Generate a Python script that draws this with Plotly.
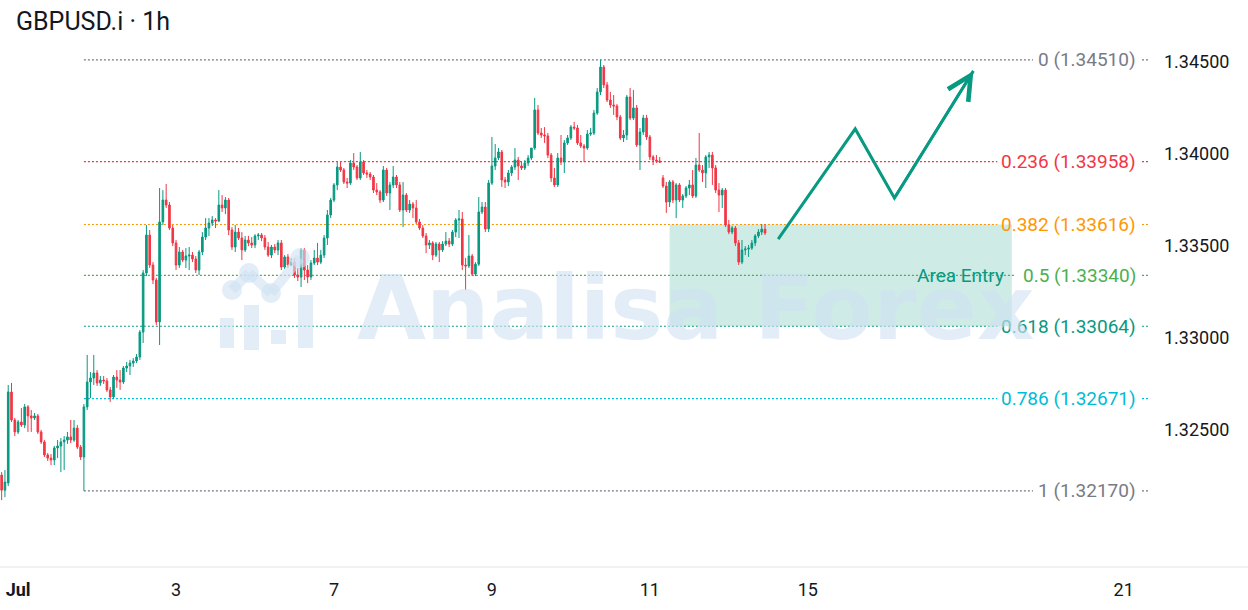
import pandas as pd
import plotly.graph_objects as go

# hourly bars, Jun 30 19:00 -> Jul 14 11:00 (weekends skipped)
hours = pd.date_range("2025-06-30 19:00", "2025-07-14 11:00", freq="h")
bar_time = hours[hours.dayofweek < 5]

open_ = [
    1.32256, 1.32174, 1.32213, 1.32707, 1.32555, 1.32490, 1.32544, 1.32528, 1.32626, 1.32577,
    1.32566, 1.32577, 1.32490, 1.32436, 1.32365, 1.32348, 1.32338, 1.32403, 1.32414, 1.32436,
    1.32446, 1.32463, 1.32446, 1.32511, 1.32408, 1.32354, 1.32626, 1.32761, 1.32783, 1.32810,
    1.32756, 1.32772, 1.32767, 1.32718, 1.32680, 1.32788, 1.32772, 1.32761, 1.32837, 1.32848,
    1.32864, 1.32875, 1.32897, 1.33032, 1.33353, 1.33559, 1.33396, 1.33315, 1.33087, 1.33630,
    1.33749, 1.33722, 1.33597, 1.33516, 1.33396, 1.33467, 1.33423, 1.33445, 1.33450, 1.33429,
    1.33369, 1.33467, 1.33548, 1.33597, 1.33624, 1.33641, 1.33635, 1.33722, 1.33706, 1.33749,
    1.33586, 1.33494, 1.33575, 1.33543, 1.33478, 1.33532, 1.33516, 1.33505, 1.33554, 1.33559,
    1.33543, 1.33494, 1.33450, 1.33494, 1.33478, 1.33516, 1.33385, 1.33440, 1.33396, 1.33412,
    1.33342, 1.33331, 1.33478, 1.33369, 1.33331, 1.33407, 1.33434, 1.33412, 1.33450, 1.33543,
    1.33668, 1.33749, 1.33831, 1.33928, 1.33912, 1.33847, 1.33841, 1.33950, 1.33928, 1.33869,
    1.33955, 1.33896, 1.33890, 1.33874, 1.33803, 1.33793, 1.33749, 1.33912, 1.33787, 1.33831,
    1.33874, 1.33831, 1.33695, 1.33776, 1.33695, 1.33727, 1.33706, 1.33630, 1.33597, 1.33554,
    1.33505, 1.33516, 1.33450, 1.33510, 1.33478, 1.33510, 1.33526, 1.33510, 1.33575, 1.33641,
    1.33646, 1.33396, 1.33391, 1.33445, 1.33347, 1.33401, 1.33684, 1.33711, 1.33592, 1.33841,
    1.33934, 1.33977, 1.34010, 1.33858, 1.33847, 1.33896, 1.33928, 1.33966, 1.33934, 1.33923,
    1.33950, 1.33977, 1.34031, 1.34238, 1.34113, 1.34102, 1.34097, 1.33993, 1.33869, 1.33831,
    1.33977, 1.33955, 1.34059, 1.34086, 1.34145, 1.34140, 1.34059, 1.34042, 1.34031, 1.34107,
    1.34113, 1.34221, 1.34336, 1.34471, 1.34374, 1.34292, 1.34265, 1.34259, 1.34200, 1.34086,
    1.34102, 1.34308, 1.34194, 1.34249, 1.34048, 1.34118, 1.34194, 1.34091, 1.33983, 1.33966,
    1.33961, 1.33869, 1.33825, 1.33738, 1.33847, 1.33749, 1.33831, 1.33749, 1.33771, 1.33814,
    1.33831, 1.33771, 1.33939, 1.33912, 1.33896, 1.33983, 1.33993, 1.33923, 1.33803, 1.33776,
    1.33803, 1.33613, 1.33575, 1.33597, 1.33516, 1.33412, 1.33478, 1.33483, 1.33488, 1.33516,
    1.33554, 1.33575, 1.33591,
]
high = [
    1.32272, 1.32283, 1.32745, 1.32756, 1.32566, 1.32555, 1.32620, 1.32642, 1.32636, 1.32609,
    1.32593, 1.32588, 1.32501, 1.32446, 1.32376, 1.32370, 1.32414, 1.32446, 1.32457, 1.32468,
    1.32490, 1.32555, 1.32555, 1.32528, 1.32419, 1.32642, 1.32908, 1.32815, 1.32908, 1.32826,
    1.32794, 1.32794, 1.32783, 1.32734, 1.32799, 1.32826, 1.32826, 1.32848, 1.32870, 1.32881,
    1.32891, 1.32913, 1.33043, 1.33369, 1.33613, 1.33586, 1.33412, 1.33326, 1.33814, 1.33803,
    1.33836, 1.33738, 1.33613, 1.33532, 1.33494, 1.33478, 1.33488, 1.33494, 1.33467, 1.33445,
    1.33478, 1.33575, 1.33651, 1.33651, 1.33662, 1.33651, 1.33803, 1.33776, 1.33765, 1.33760,
    1.33602, 1.33613, 1.33597, 1.33575, 1.33554, 1.33554, 1.33548, 1.33564, 1.33570, 1.33570,
    1.33559, 1.33521, 1.33505, 1.33510, 1.33532, 1.33532, 1.33450, 1.33456, 1.33434, 1.33434,
    1.33380, 1.33488, 1.33488, 1.33396, 1.33423, 1.33478, 1.33516, 1.33478, 1.33559, 1.33695,
    1.33760, 1.33841, 1.33955, 1.33955, 1.33923, 1.33869, 1.33966, 1.34004, 1.33939, 1.34010,
    1.33966, 1.33912, 1.33901, 1.33885, 1.33841, 1.33803, 1.33934, 1.33923, 1.33847, 1.33934,
    1.33885, 1.33847, 1.33847, 1.33787, 1.33749, 1.33738, 1.33749, 1.33646, 1.33613, 1.33570,
    1.33532, 1.33526, 1.33521, 1.33521, 1.33526, 1.33575, 1.33543, 1.33586, 1.33651, 1.33695,
    1.33684, 1.33434, 1.33559, 1.33456, 1.33412, 1.33765, 1.33738, 1.33738, 1.33858, 1.34091,
    1.34053, 1.34031, 1.34021, 1.33874, 1.33912, 1.33939, 1.34031, 1.33983, 1.33955, 1.33966,
    1.33993, 1.34021, 1.34303, 1.34265, 1.34140, 1.34145, 1.34113, 1.34004, 1.33923, 1.34004,
    1.34102, 1.34075, 1.34102, 1.34156, 1.34173, 1.34156, 1.34102, 1.34053, 1.34129, 1.34140,
    1.34238, 1.34357, 1.34510, 1.34482, 1.34390, 1.34336, 1.34319, 1.34270, 1.34211, 1.34129,
    1.34319, 1.34357, 1.34346, 1.34265, 1.34140, 1.34211, 1.34211, 1.34102, 1.33993, 1.33993,
    1.33983, 1.33885, 1.33847, 1.33858, 1.33858, 1.33841, 1.33841, 1.33782, 1.33825, 1.33858,
    1.33912, 1.33977, 1.34113, 1.33939, 1.33993, 1.34010, 1.34010, 1.33939, 1.33841, 1.33814,
    1.33814, 1.33641, 1.33608, 1.33608, 1.33532, 1.33532, 1.33499, 1.33505, 1.33532, 1.33564,
    1.33591, 1.33619, 1.33619,
]
low = [
    1.32120, 1.32136, 1.32196, 1.32544, 1.32468, 1.32479, 1.32517, 1.32511, 1.32490, 1.32490,
    1.32555, 1.32479, 1.32425, 1.32354, 1.32332, 1.32310, 1.32310, 1.32348, 1.32272, 1.32283,
    1.32425, 1.32430, 1.32436, 1.32397, 1.32338, 1.32170, 1.32609, 1.32674, 1.32745, 1.32740,
    1.32740, 1.32750, 1.32707, 1.32653, 1.32669, 1.32729, 1.32718, 1.32750, 1.32815, 1.32799,
    1.32843, 1.32864, 1.32881, 1.32973, 1.33336, 1.33380, 1.33293, 1.33070, 1.32962, 1.33613,
    1.33706, 1.33586, 1.33499, 1.33369, 1.33380, 1.33412, 1.33380, 1.33369, 1.33412, 1.33353,
    1.33342, 1.33450, 1.33532, 1.33554, 1.33608, 1.33597, 1.33630, 1.33684, 1.33673, 1.33559,
    1.33478, 1.33467, 1.33532, 1.33423, 1.33467, 1.33499, 1.33488, 1.33488, 1.33532, 1.33526,
    1.33478, 1.33440, 1.33434, 1.33461, 1.33450, 1.33369, 1.33374, 1.33380, 1.33391, 1.33326,
    1.33309, 1.33277, 1.33315, 1.33298, 1.33315, 1.33396, 1.33396, 1.33401, 1.33434, 1.33505,
    1.33651, 1.33738, 1.33803, 1.33901, 1.33836, 1.33814, 1.33831, 1.33912, 1.33858, 1.33858,
    1.33885, 1.33869, 1.33858, 1.33787, 1.33776, 1.33733, 1.33738, 1.33771, 1.33695, 1.33814,
    1.33814, 1.33684, 1.33602, 1.33684, 1.33679, 1.33651, 1.33619, 1.33586, 1.33543, 1.33461,
    1.33483, 1.33423, 1.33440, 1.33412, 1.33467, 1.33499, 1.33494, 1.33499, 1.33548, 1.33543,
    1.33369, 1.33260, 1.33380, 1.33336, 1.33336, 1.33391, 1.33673, 1.33575, 1.33575, 1.33831,
    1.33912, 1.33966, 1.33820, 1.33814, 1.33825, 1.33879, 1.33912, 1.33858, 1.33912, 1.33912,
    1.33934, 1.33966, 1.34021, 1.34102, 1.34086, 1.34059, 1.33977, 1.33847, 1.33820, 1.33820,
    1.33939, 1.33896, 1.34048, 1.34075, 1.34129, 1.34048, 1.34031, 1.33955, 1.34021, 1.34097,
    1.34102, 1.34211, 1.34319, 1.34357, 1.34281, 1.34249, 1.34211, 1.34183, 1.34075, 1.34064,
    1.34075, 1.34183, 1.34183, 1.34037, 1.33912, 1.34102, 1.34075, 1.33966, 1.33939, 1.33950,
    1.33950, 1.33814, 1.33679, 1.33711, 1.33733, 1.33651, 1.33738, 1.33706, 1.33760, 1.33776,
    1.33760, 1.33760, 1.33901, 1.33847, 1.33814, 1.33923, 1.33831, 1.33787, 1.33684, 1.33706,
    1.33602, 1.33564, 1.33564, 1.33499, 1.33396, 1.33401, 1.33450, 1.33440, 1.33478, 1.33499,
    1.33543, 1.33559, 1.33559,
]
close = [
    1.32174, 1.32218, 1.32707, 1.32555, 1.32490, 1.32544, 1.32528, 1.32626, 1.32577, 1.32566,
    1.32577, 1.32490, 1.32436, 1.32365, 1.32348, 1.32338, 1.32403, 1.32414, 1.32436, 1.32446,
    1.32463, 1.32446, 1.32511, 1.32408, 1.32354, 1.32626, 1.32761, 1.32783, 1.32810, 1.32756,
    1.32772, 1.32767, 1.32718, 1.32680, 1.32788, 1.32772, 1.32761, 1.32837, 1.32848, 1.32864,
    1.32875, 1.32897, 1.33032, 1.33353, 1.33559, 1.33396, 1.33315, 1.33087, 1.33630, 1.33749,
    1.33722, 1.33597, 1.33516, 1.33396, 1.33467, 1.33423, 1.33445, 1.33450, 1.33429, 1.33369,
    1.33467, 1.33548, 1.33597, 1.33624, 1.33641, 1.33635, 1.33722, 1.33706, 1.33749, 1.33586,
    1.33494, 1.33575, 1.33543, 1.33478, 1.33532, 1.33516, 1.33505, 1.33554, 1.33559, 1.33543,
    1.33494, 1.33450, 1.33494, 1.33478, 1.33516, 1.33385, 1.33440, 1.33396, 1.33412, 1.33342,
    1.33331, 1.33478, 1.33369, 1.33331, 1.33407, 1.33434, 1.33412, 1.33450, 1.33543, 1.33668,
    1.33749, 1.33831, 1.33928, 1.33912, 1.33847, 1.33841, 1.33950, 1.33928, 1.33869, 1.33955,
    1.33896, 1.33890, 1.33874, 1.33803, 1.33793, 1.33749, 1.33912, 1.33787, 1.33831, 1.33874,
    1.33831, 1.33695, 1.33776, 1.33695, 1.33727, 1.33706, 1.33630, 1.33597, 1.33554, 1.33505,
    1.33516, 1.33450, 1.33510, 1.33478, 1.33510, 1.33526, 1.33510, 1.33575, 1.33641, 1.33646,
    1.33396, 1.33391, 1.33445, 1.33347, 1.33401, 1.33684, 1.33711, 1.33592, 1.33841, 1.33934,
    1.33977, 1.34010, 1.33858, 1.33847, 1.33896, 1.33928, 1.33966, 1.33934, 1.33923, 1.33950,
    1.33977, 1.34031, 1.34238, 1.34113, 1.34102, 1.34097, 1.33993, 1.33869, 1.33831, 1.33977,
    1.33955, 1.34059, 1.34086, 1.34145, 1.34140, 1.34059, 1.34042, 1.34031, 1.34107, 1.34113,
    1.34221, 1.34336, 1.34471, 1.34374, 1.34292, 1.34265, 1.34259, 1.34200, 1.34086, 1.34102,
    1.34308, 1.34194, 1.34249, 1.34048, 1.34118, 1.34194, 1.34091, 1.33983, 1.33966, 1.33961,
    1.33955, 1.33825, 1.33738, 1.33847, 1.33749, 1.33831, 1.33749, 1.33771, 1.33814, 1.33831,
    1.33771, 1.33939, 1.33912, 1.33896, 1.33983, 1.33993, 1.33923, 1.33803, 1.33776, 1.33803,
    1.33613, 1.33575, 1.33597, 1.33516, 1.33412, 1.33478, 1.33483, 1.33488, 1.33516, 1.33554,
    1.33575, 1.33591, 1.33570,
]

# fibonacci retracement drawn from the Jul 1 low to the Jul 10 high
fib_high = 1.34510
fib_low = 1.32170
fib_start = "2025-07-01 20:00"
fib_ratios = [0, 0.236, 0.382, 0.5, 0.618, 0.786, 1]
fib_colors = ["#787b86", "#f23645", "#ff9800", "#4caf50", "#089981", "#00bcd4", "#787b86"]

# projected path drawn on the chart
proj_x = ["2025-07-14 15:00", "2025-07-15 14:25", "2025-07-16 02:20", "2025-07-17 02:20"]
proj_y = [1.33537, 1.34135, 1.33760, 1.34450]

entry_x = ["2025-07-11 06:00", "2025-07-17 14:00"]

tick_dates = ["2025-07-01", "2025-07-03", "2025-07-07", "2025-07-09", "2025-07-11", "2025-07-15", "2025-07-21"]
tick_text = ["<b>Jul</b>", "3", "7", "9", "11", "15", "21"]
price_ticks = [1.325, 1.330, 1.335, 1.340, 1.345]

GREEN = "#089981"
RED = "#f23645"
WM = "rgba(208,226,242,0.62)"
X_END = "2025-07-21 08:00"
PW, PH, PB = 1150, 527, 567
BAR_PX, X0_PX = 3.29, 18.0

# trading hours from Jul 1 on, used to place line ends next to the labels
trade_hours = pd.date_range("2025-07-01", "2025-07-22", freq="h")
trade_hours = trade_hours[trade_hours.dayofweek < 5]


def px(x, y):
    # pixel position -> paper coordinates
    return x / PW, (PB - y) / PH


def px_date(x):
    i = (x - X0_PX) / BAR_PX
    k = int(i)
    return str(trade_hours[k] + pd.Timedelta(hours=i - k))


fib_prices = [fib_high - r * (fib_high - fib_low) for r in fib_ratios]

fig = go.Figure()
fig.add_trace(go.Candlestick(
    x=bar_time, open=open_, high=high, low=low, close=close,
    increasing=dict(line=dict(color=GREEN, width=1), fillcolor=GREEN),
    decreasing=dict(line=dict(color=RED, width=1), fillcolor=RED),
    whiskerwidth=0, hoverinfo="skip", showlegend=False,
))
fig.add_trace(go.Scatter(
    x=proj_x, y=proj_y, mode="lines", hoverinfo="skip", showlegend=False,
    line=dict(color=GREEN, width=3),
))

shapes = []
annotations = []

# entry zone between 0.382 and 0.618
shapes.append(dict(type="rect", xref="x", yref="y", x0=entry_x[0], x1=entry_x[1],
                   y0=fib_prices[4], y1=fib_prices[2], line=dict(width=0),
                   fillcolor="rgba(8,153,129,0.2)", layer="below"))

LABEL_RIGHT = 1137
for r, p, col in zip(fib_ratios, fib_prices, fib_colors):
    label = f"{r:g} ({p:.5f})"
    left = LABEL_RIGHT - 8.93 * len(label)
    dot = dict(color=col, width=1.2, dash="2px,2px")
    shapes.append(dict(type="line", xref="x", yref="y", x0=fib_start, x1=px_date(left - 6),
                       y0=p, y1=p, line=dot, layer="below"))
    shapes.append(dict(type="line", xref="paper", yref="y", x0=(LABEL_RIGHT + 5) / PW, x1=1,
                       y0=p, y1=p, line=dot, layer="below"))
    annotations.append(dict(xref="paper", yref="y", x=LABEL_RIGHT / PW, y=p, xanchor="right",
                            text=label, showarrow=False, borderpad=0,
                            font=dict(size=19, color=col)))

annotations.append(dict(xref="paper", yref="y", x=1006 / PW, y=fib_prices[3], xanchor="right",
                        text="Area Entry", showarrow=False, font=dict(size=19, color=GREEN)))

# arrow head on the last leg of the projection
annotations.append(dict(xref="x", yref="y", x=proj_x[3], y=proj_y[3], axref="x", ayref="y",
                        ax=proj_x[2], ay=proj_y[2], text="", showarrow=True, arrowhead=5,
                        arrowsize=1.8, arrowwidth=2.6, arrowcolor=GREEN, standoff=0))

# watermark
wx, wy = px(695, 308)
annotations.append(dict(xref="paper", yref="paper", x=wx, y=wy, text="<b>Analisa Forex</b>",
                        showarrow=False, font=dict(size=89, color=WM, family="DejaVu Sans")))
for x0, y0, x1, y1 in [(220, 318, 234, 348), (244, 305, 259, 350), (271, 330, 286, 344), (298, 295, 313, 348)]:
    a0, b0 = px(x0, y0)
    a1, b1 = px(x1, y1)
    shapes.append(dict(type="rect", xref="paper", yref="paper", x0=a0, x1=a1, y0=b0, y1=b1,
                       line=dict(width=0), fillcolor=WM, layer="above"))
nodes = [(232, 290), (249, 273), (271, 293), (300, 258)]
for (x0, y0), (x1, y1) in zip(nodes[:-1], nodes[1:]):
    a0, b0 = px(x0, y0)
    a1, b1 = px(x1, y1)
    shapes.append(dict(type="line", xref="paper", yref="paper", x0=a0, x1=a1, y0=b0, y1=b1,
                       line=dict(color=WM, width=10), layer="above"))
for cx, cy in nodes:
    a0, b0 = px(cx - 10, cy - 10)
    a1, b1 = px(cx + 10, cy + 10)
    shapes.append(dict(type="circle", xref="paper", yref="paper", x0=a0, x1=a1, y0=b0, y1=b1,
                       line=dict(width=0), fillcolor=WM, layer="above"))

# bottom border under the time scale
shapes.append(dict(type="line", xref="paper", yref="paper", x0=0, x1=1248 / PW, y0=0, y1=0,
                   line=dict(color="#e0e3eb", width=1)))

tx, ty = px(14, 22)
annotations.append(dict(xref="paper", yref="paper", x=tx, y=ty, xanchor="left", yanchor="middle",
                        text="GBPUSD.i · 1h", showarrow=False, font=dict(size=25, color="#131722")))

fig.update_layout(
    width=1248, height=610,
    margin=dict(l=0, r=98, t=40, b=43),
    paper_bgcolor="white", plot_bgcolor="white",
    font=dict(family="Roboto", color="#131722", size=16),
    showlegend=False, hovermode=False,
    shapes=shapes, annotations=annotations,
    xaxis=dict(type="date", range=["2025-06-30 18:30", X_END],
               rangebreaks=[dict(bounds=["sat", "mon"])],
               rangeslider=dict(visible=False),
               tickmode="array", tickvals=tick_dates, ticktext=tick_text,
               showgrid=False, zeroline=False, showline=False, ticks="",
               ticklabelstandoff=10, tickfont=dict(size=18, color="#131722")),
    yaxis=dict(side="right", range=[1.317568, 1.346178],
               tickmode="array", tickvals=price_ticks, ticktext=[f"{v:.5f}" for v in price_ticks],
               showgrid=False, zeroline=False, showline=False, ticks="",
               ticklabelstandoff=13, tickfont=dict(size=18, color="#131722")),
)

fig.write_html("out.html", config={"displayModeBar": False},
               post_script="document.body.style.margin='0';")
